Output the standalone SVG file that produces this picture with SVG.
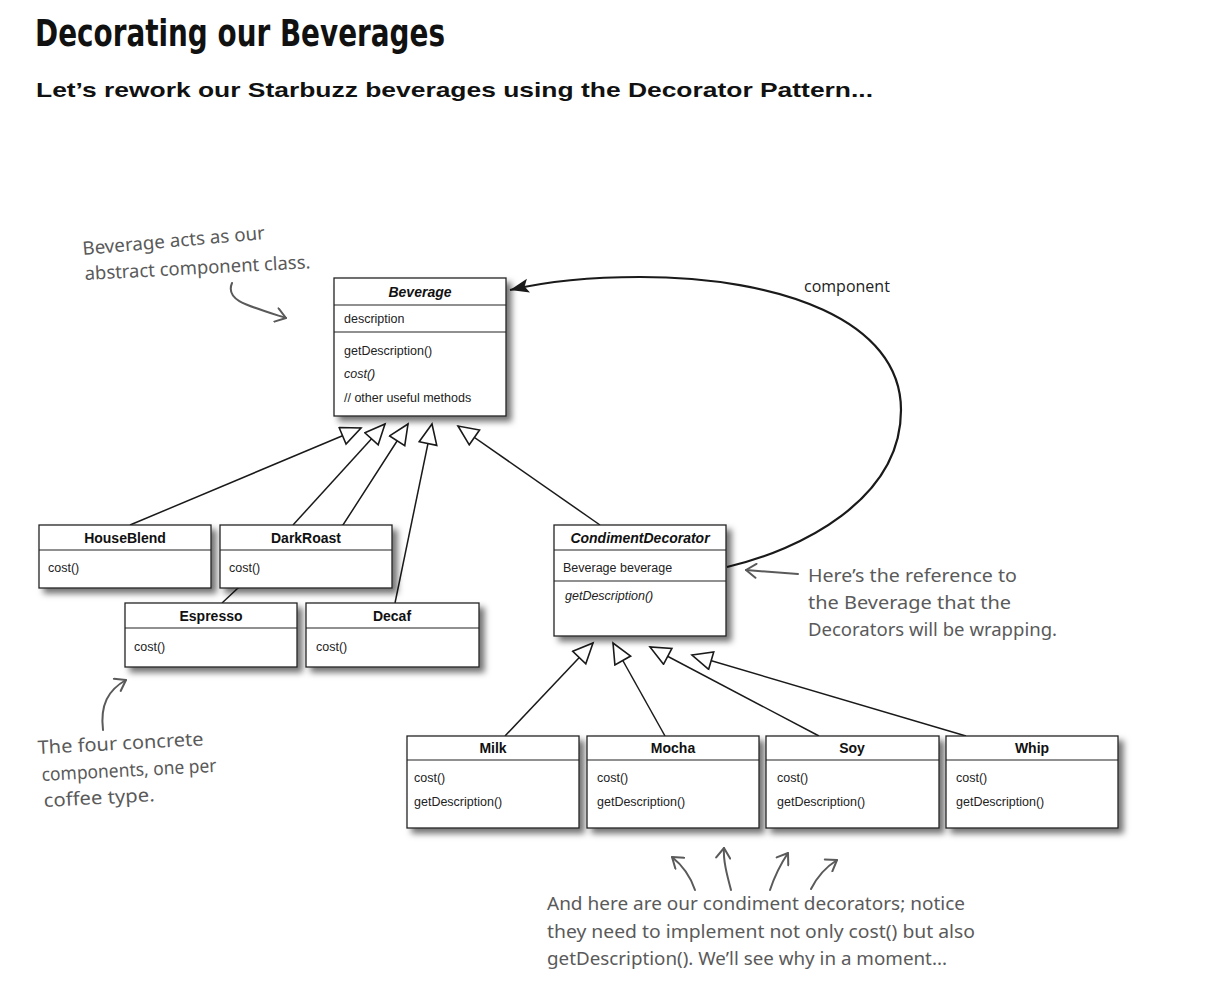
<svg xmlns="http://www.w3.org/2000/svg" width="1206" height="1000" viewBox="0 0 1206 1000">
<style>
.box{fill:#fff;stroke:#222;stroke-width:1.3;filter:url(#sh)}
.div{stroke:#222;stroke-width:1.2}
.t{font-family:"Liberation Sans",Arial,sans-serif;font-size:14px;font-weight:bold;fill:#111;text-anchor:middle}
.ti{font-style:italic}
.m{font-family:"Liberation Sans",Arial,sans-serif;font-size:12.5px;fill:#222}
.it{font-style:italic}
.con{fill:none;stroke:#1a1a1a;stroke-width:1.5}
.hand{font-family:"Noto Sans","DejaVu Sans",sans-serif;font-size:18.5px;fill:#5a5a5a}
.harr{fill:none;stroke:#5a5a5a;stroke-width:2;stroke-linecap:round}
</style>
<defs>
<filter id="sh" x="-10%" y="-10%" width="125%" height="135%">
<feDropShadow dx="5" dy="5" stdDeviation="3" flood-color="#000" flood-opacity="0.55"/>
</filter>
<marker id="tri" markerUnits="userSpaceOnUse" markerWidth="26" markerHeight="22" refX="22" refY="10" orient="auto">
<path d="M2,1 L22,10 L2,19 Z" fill="#fff" stroke="#1a1a1a" stroke-width="1.6"/>
</marker>
<marker id="fill" markerUnits="userSpaceOnUse" markerWidth="22" markerHeight="16" refX="19" refY="7" orient="auto">
<path d="M0,0 L19,7 L0,14 L4,7 Z" fill="#1a1a1a"/>
</marker>
<marker id="ha" markerUnits="userSpaceOnUse" markerWidth="16" markerHeight="16" refX="12" refY="8" orient="auto">
<path d="M2,1 L12,8 L2,15" fill="none" stroke="#5a5a5a" stroke-width="2" stroke-linecap="round" stroke-linejoin="round"/>
</marker>
</defs>
<rect width="1206" height="1000" fill="#fff"/>

<g id="title">
<text x="35" y="46" font-family="'DejaVu Sans Condensed','DejaVu Sans',sans-serif" font-weight="bold" font-size="38" fill="#111" textLength="410" lengthAdjust="spacingAndGlyphs">Decorating our Beverages</text>
<text x="36" y="97" font-family="'Liberation Sans',Arial,sans-serif" font-weight="bold" font-size="21" fill="#111" textLength="837" lengthAdjust="spacingAndGlyphs">Let’s rework our Starbuzz beverages using the Decorator Pattern...</text>
</g>

<g id="connectors">
<path class="con" d="M130,525 L361,428" marker-end="url(#tri)"/>
<path class="con" d="M293,525 L385,424" marker-end="url(#tri)"/>
<path class="con" d="M222,603 L238,588 L343,525 L408,424" marker-end="url(#tri)"/>
<path class="con" d="M395,603 L432,424" marker-end="url(#tri)"/>
<path class="con" d="M600,525 L458,426" marker-end="url(#tri)"/>
<path class="con" d="M505,736 L593,643" marker-end="url(#tri)"/>
<path class="con" d="M665,736 L613,643" marker-end="url(#tri)"/>
<path class="con" d="M819,736 L650,647" marker-end="url(#tri)"/>
<path class="con" d="M966,736 L692,655" marker-end="url(#tri)"/>
<path class="con" style="stroke-width:2.2" d="M727,567 C800,550 901,500 901,410 C901,320 780,277 640,277 C585,277 540,283 510,290" marker-end="url(#fill)"/>
<text x="804" y="292" font-family="'Open Sans',sans-serif" font-size="16" fill="#222">component</text>
</g>

<g id="Beverage">
<rect class="box" x="334" y="278" width="172" height="138"/>
<line class="div" x1="334" y1="305" x2="506" y2="305"/>
<line class="div" x1="334" y1="332" x2="506" y2="332"/>
<text class="t ti" x="420" y="297">Beverage</text>
<text class="m" x="344" y="323">description</text>
<text class="m" x="344" y="355">getDescription()</text>
<text class="m it" x="344" y="378">cost()</text>
<text class="m" x="344" y="402">// other useful methods</text>
</g>

<g id="HouseBlend">
<rect class="box" x="39" y="525" width="172" height="63"/>
<line class="div" x1="39" y1="550" x2="211" y2="550"/>
<text class="t" x="125" y="543">HouseBlend</text>
<text class="m" x="48" y="572">cost()</text>
</g>
<g id="DarkRoast">
<rect class="box" x="220" y="525" width="172" height="63"/>
<line class="div" x1="220" y1="550" x2="392" y2="550"/>
<text class="t" x="306" y="543">DarkRoast</text>
<text class="m" x="229" y="572">cost()</text>
</g>
<g id="Espresso">
<rect class="box" x="125" y="603" width="172" height="64"/>
<line class="div" x1="125" y1="628" x2="297" y2="628"/>
<text class="t" x="211" y="621">Espresso</text>
<text class="m" x="134" y="651">cost()</text>
</g>
<g id="Decaf">
<rect class="box" x="306" y="603" width="173" height="64"/>
<line class="div" x1="306" y1="628" x2="479" y2="628"/>
<text class="t" x="392" y="621">Decaf</text>
<text class="m" x="316" y="651">cost()</text>
</g>

<g id="CondimentDecorator">
<rect class="box" x="554" y="525" width="172" height="111"/>
<line class="div" x1="554" y1="550" x2="726" y2="550"/>
<line class="div" x1="554" y1="581" x2="726" y2="581"/>
<text class="t ti" x="640" y="543">CondimentDecorator</text>
<text class="m" x="563" y="572">Beverage beverage</text>
<text class="m it" x="565" y="600">getDescription()</text>
</g>

<g id="Milk">
<rect class="box" x="407" y="736" width="172" height="92"/>
<line class="div" x1="407" y1="760" x2="579" y2="760"/>
<text class="t" x="493" y="753">Milk</text>
<text class="m" x="414" y="782">cost()</text>
<text class="m" x="414" y="806">getDescription()</text>
</g>
<g id="Mocha">
<rect class="box" x="587" y="736" width="172" height="92"/>
<line class="div" x1="587" y1="760" x2="759" y2="760"/>
<text class="t" x="673" y="753">Mocha</text>
<text class="m" x="597" y="782">cost()</text>
<text class="m" x="597" y="806">getDescription()</text>
</g>
<g id="Soy">
<rect class="box" x="766" y="736" width="173" height="92"/>
<line class="div" x1="766" y1="760" x2="939" y2="760"/>
<text class="t" x="852" y="753">Soy</text>
<text class="m" x="777" y="782">cost()</text>
<text class="m" x="777" y="806">getDescription()</text>
</g>
<g id="Whip">
<rect class="box" x="946" y="736" width="172" height="92"/>
<line class="div" x1="946" y1="760" x2="1118" y2="760"/>
<text class="t" x="1032" y="753">Whip</text>
<text class="m" x="956" y="782">cost()</text>
<text class="m" x="956" y="806">getDescription()</text>
</g>

<g id="note-beverage">
<text class="hand" x="83" y="255" transform="rotate(-5 83 255)" textLength="183" lengthAdjust="spacingAndGlyphs">Beverage acts as our</text>
<text class="hand" x="85" y="280" transform="rotate(-3 85 280)" textLength="226" lengthAdjust="spacingAndGlyphs">abstract component class.</text>
<path class="harr" d="M232,283 C225,300 245,305 286,318" marker-end="url(#ha)"/>
</g>
<g id="note-reference">
<path class="harr" d="M798,574 L746,570" marker-end="url(#ha)"/>
<text class="hand" x="808" y="582" textLength="209" lengthAdjust="spacingAndGlyphs">Here’s the reference to</text>
<text class="hand" x="808" y="609" textLength="203" lengthAdjust="spacingAndGlyphs">the Beverage that the</text>
<text class="hand" x="808" y="636" textLength="249" lengthAdjust="spacingAndGlyphs">Decorators will be wrapping.</text>
</g>
<g id="note-concrete">
<path class="harr" d="M103,730 C100,705 108,690 126,680" marker-end="url(#ha)"/>
<text class="hand" x="38" y="754" transform="rotate(-3 38 754)" textLength="166" lengthAdjust="spacingAndGlyphs">The four concrete</text>
<text class="hand" x="42" y="781" transform="rotate(-3 42 781)" textLength="175" lengthAdjust="spacingAndGlyphs">components, one per</text>
<text class="hand" x="44" y="807" transform="rotate(-3 44 807)" textLength="111" lengthAdjust="spacingAndGlyphs">coffee type.</text>
</g>
<g id="note-decorators">
<path class="harr" d="M695,890 C690,875 682,865 672,857" marker-end="url(#ha)"/>
<path class="harr" d="M731,890 C727,875 723,860 724,848" marker-end="url(#ha)"/>
<path class="harr" d="M770,890 C775,875 780,865 788,853" marker-end="url(#ha)"/>
<path class="harr" d="M811,889 C817,877 826,867 837,860" marker-end="url(#ha)"/>
<text class="hand" x="547" y="910" textLength="418" lengthAdjust="spacingAndGlyphs">And here are our condiment decorators; notice</text>
<text class="hand" x="547" y="938" textLength="428" lengthAdjust="spacingAndGlyphs">they need to implement not only cost() but also</text>
<text class="hand" x="547" y="965" textLength="400" lengthAdjust="spacingAndGlyphs">getDescription(). We’ll see why in a moment...</text>
</g>
</svg>
